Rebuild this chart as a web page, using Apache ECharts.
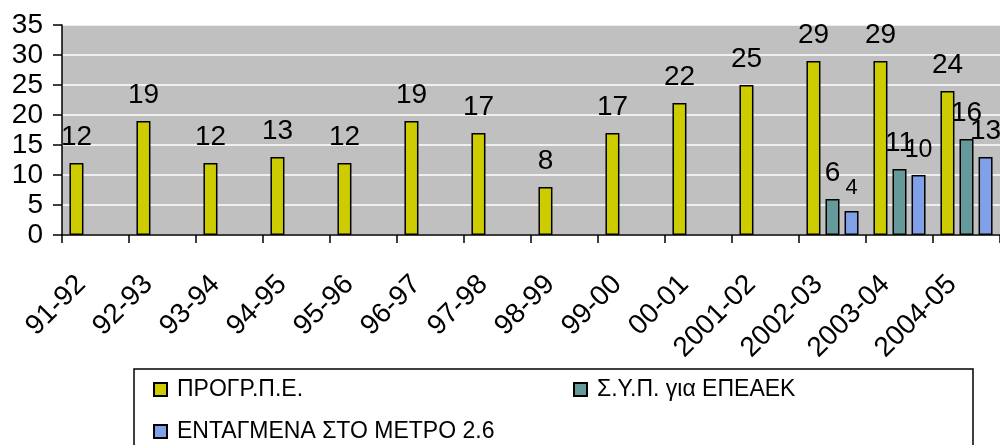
<!DOCTYPE html>
<html>
<head>
<meta charset="utf-8">
<script src="https://cdn.jsdelivr.net/npm/echarts@6/dist/echarts.min.js"></script>
<style>
  html, body { margin: 0; padding: 0; background: #fff; }
  #chart { width: 1000px; height: 445px; }
</style>
</head>
<body>
<div id="chart"></div>
<script>
// categories (school years)
var years = ['91-92', '92-93', '93-94', '94-95', '95-96', '96-97', '97-98', '98-99',
             '99-00', '00-01', '2001-02', '2002-03', '2003-04', '2004-05'];

// series values
var progrPE = [12, 19, 12, 13, 12, 19, 17, 8, 17, 22, 25, 29, 29, 24];
var sypEpeaek = [null, null, null, null, null, null, null, null, null, null, null, 6, 11, 16];
var entagmena = [null, null, null, null, null, null, null, null, null, null, null, 4, 10, 13];

var seriesNames = ['ΠΡΟΓΡ.Π.Ε.', 'Σ.Υ.Π. για ΕΠΕΑΕΚ', 'ΕΝΤΑΓΜΕΝΑ ΣΤΟ ΜΕΤΡΟ 2.6'];
var colors = ['#CCCC00', '#669999', '#80A0E8'];

var font = 'Liberation Sans, Arial, sans-serif';

var chart = echarts.init(document.getElementById('chart'));

function makeSeries(name, values, color, smallLabels) {
    return {
        name: name,
        type: 'bar',
        barWidth: 14,
        barGap: '36%',
        data: values.map(function (v) {
            if (v == null) return null;
            var item = { value: v };
            // Excel shrank a couple of the crowded labels
            if (smallLabels && smallLabels[v]) {
                item.label = { fontSize: smallLabels[v] };
            }
            return item;
        }),
        itemStyle: { color: color, borderColor: '#000', borderWidth: 1.5 },
        label: {
            show: true,
            position: 'top',
            distance: 12,
            color: '#000',
            fontSize: 28,
            fontFamily: font
        }
    };
}

var option = {
    animation: false,
    backgroundColor: '#fff',
    grid: {
        left: 62,
        top: 25,
        right: -13,
        bottom: 210,
        show: true,
        backgroundColor: '#C0C0C0',
        borderWidth: 0
    },
    xAxis: {
        type: 'category',
        data: years,
        axisLine: { lineStyle: { color: '#000', width: 1.5 } },
        axisTick: { show: true, length: 8, lineStyle: { color: '#000', width: 1.5 } },
        axisLabel: {
            rotate: 45,
            interval: 0,
            margin: 31,
            padding: [0, 20, 0, 0],
            color: '#000',
            fontSize: 28,
            fontFamily: font
        },
        splitLine: { show: false }
    },
    yAxis: {
        type: 'value',
        min: 0,
        max: 35,
        interval: 5,
        axisLine: { show: true, lineStyle: { color: '#000', width: 1.5 } },
        axisTick: { show: true, length: 9, lineStyle: { color: '#000', width: 1.5 } },
        axisLabel: {
            margin: 19,
            color: '#000',
            fontSize: 28,
            fontFamily: font
        },
        splitLine: { show: true, lineStyle: { color: '#fff', width: 1.5 } }
    },
    legend: [
        {
            data: [seriesNames[0]], left: 153, top: 378, padding: 0,
            icon: 'rect', itemWidth: 13, itemHeight: 13,
            textStyle: { fontSize: 23, fontFamily: font, color: '#000', padding: [0, 0, 0, 5] }
        },
        {
            data: [seriesNames[1]], left: 573, top: 378, padding: 0,
            icon: 'rect', itemWidth: 13, itemHeight: 13,
            textStyle: { fontSize: 23, fontFamily: font, color: '#000', padding: [0, 0, 0, 5] }
        },
        {
            data: [seriesNames[2]], left: 153, top: 420, padding: 0,
            icon: 'rect', itemWidth: 13, itemHeight: 13,
            textStyle: { fontSize: 23, fontFamily: font, color: '#000', padding: [0, 0, 0, 5] }
        }
    ],
    graphic: [
        {
            type: 'rect',
            z: -1,
            shape: { x: 134, y: 369, width: 839, height: 100 },
            style: { fill: '#fff', stroke: '#000', lineWidth: 1.5 }
        }
    ],
    series: [
        makeSeries(seriesNames[0], progrPE, colors[0]),
        makeSeries(seriesNames[1], sypEpeaek, colors[1]),
        makeSeries(seriesNames[2], entagmena, colors[2], { 4: 22, 10: 25 })
    ]
};

chart.setOption(option);
</script>
</body>
</html>
